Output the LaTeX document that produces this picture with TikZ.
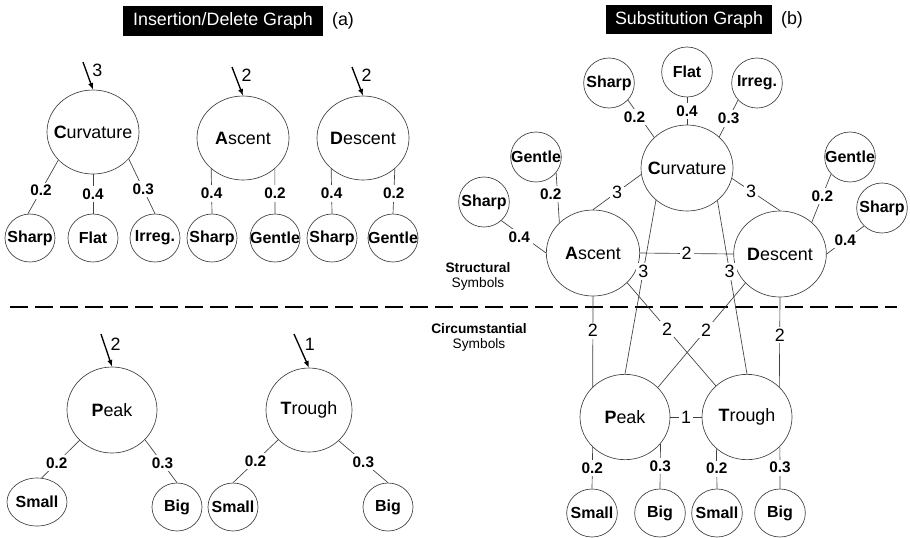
\documentclass[tikz,border=0pt]{standalone}
\usepackage{fontspec}
\setmainfont{Liberation Sans}
\usetikzlibrary{shapes.geometric}
\usetikzlibrary{arrows.meta}

\begin{document}
\begin{tikzpicture}[x=0.75pt,y=-0.75pt,
  bigfont/.style={font=\fontsize{13.4}{16}\selectfont},
  leaffont/.style={font=\fontsize{12}{14}\selectfont\bfseries},
  symb/.style={ellipse,draw=black!75,line width=0.5pt,inner sep=0pt,minimum width=69pt,minimum height=63pt,label={[bigfont]center:#1}},
  leaf/.style={ellipse,draw=black!75,line width=0.5pt,inner sep=0pt,minimum width=37.5pt,minimum height=36pt,label={[leaffont]center:#1}},
  link/.style={draw=black!75,line width=0.5pt},
  wlab/.style={fill=white,inner sep=2pt,font=\fontsize{11.5}{13}\selectfont\bfseries},
  clab/.style={fill=white,inner sep=1.5pt,bigfont},
  inarr/.style={line width=1pt,-{Latex[length=5pt,width=4pt]}},
  titlebox/.style={fill=black,text=white,inner sep=0pt,font=\fontsize{13.4}{16}\selectfont},
  tagfont/.style={font=\fontsize{10.3}{12}\selectfont},
]
\useasboundingbox (0,0) rectangle (910,537);

% Insertion/Delete graph (a)
\node[titlebox,minimum width=150pt,minimum height=22.5pt] (tita) at (223,21) {Insertion/Delete Graph};
\node[bigfont] (taga) at (343,21) {(a)};

\node[symb={{\bfseries C}urvature}] (curvA) at (93,132) {};
\node[symb={{\bfseries A}scent}] (ascA) at (243,138) {};
\node[symb={{\bfseries D}escent}] (descA) at (363,138) {};

\node[leaf={Sharp}] (sharpA) at (30,238) {};
\node[leaf={Flat}] (flatA) at (93,238) {};
\node[leaf={Irreg.}] (irregA) at (155,238) {};
\node[leaf={Sharp}] (asharpA) at (212,238) {};
\node[leaf={Gentle}] (agentA) at (275,238) {};
\node[leaf={Sharp}] (dsharpA) at (332,238) {};
\node[leaf={Gentle}] (dgentA) at (393,238) {};

\draw[link] (curvA.219) -- node[wlab,pos=.57] {0.2} (sharpA.95);
\draw[link] (curvA.south) -- node[wlab] {0.4} (flatA.north);
\draw[link] (curvA.323) -- node[wlab,pos=.55] {0.3} (irregA.90);
\draw[link] (ascA.224) -- node[wlab,pos=.55] {0.4} (asharpA.north);
\draw[link] (ascA.316) -- node[wlab,pos=.55] {0.2} (agentA.north);
\draw[link] (descA.224) -- node[wlab,pos=.55] {0.4} (dsharpA.north);
\draw[link] (descA.316) -- node[wlab,pos=.55] {0.2} (dgentA.north);

\coordinate (incurv) at (83,62);
\coordinate (inasc) at (232,67);
\coordinate (indesc) at (352,67);
\draw[inarr] (incurv) -- (curvA.north) node[bigfont,pos=.3,right=1pt] {3};
\draw[inarr] (inasc) -- (ascA.north) node[bigfont,pos=.3,right=1pt] {2};
\draw[inarr] (indesc) -- (descA.north) node[bigfont,pos=.3,right=1pt] {2};

% circumstantial symbols (a)
\node[symb={{\bfseries P}eak},minimum width=67.5pt,minimum height=64.5pt] (peakA) at (112,410) {};
\node[symb={{\bfseries T}rough},minimum width=64.5pt] (troughA) at (309,410) {};

\node[leaf={Small},minimum width=45pt] (smallPA) at (37,502) {};
\node[leaf={Big}] (bigPA) at (177,507) {};
\node[leaf={Small}] (smallTA) at (233,507) {};
\node[leaf={Big}] (bigTA) at (388,507) {};

\draw[link] (peakA.223) -- node[wlab,pos=.6] {0.2} (smallPA.79);
\draw[link] (peakA.318) -- node[wlab,pos=.55] {0.3} (bigPA.north);
\draw[link] (troughA.224) -- node[wlab,pos=.5] {0.2} (smallTA.north);
\draw[link] (troughA.314) -- node[wlab,pos=.5] {0.3} (bigTA.north);

\coordinate (inpeak) at (101,334);
\coordinate (introu) at (294,334);
\draw[inarr] (inpeak) -- (peakA.north) node[bigfont,pos=.3,right=1pt] {2};
\draw[inarr] (introu) -- (troughA.north) node[bigfont,pos=.3,right=1pt] {1};

% separator
\coordinate (sepl) at (10,307);
\coordinate (sepr) at (897,307);
\draw[line width=1.9pt,dash pattern=on 13.75pt off 5pt] (sepl) -- (sepr);

\node[tagfont,font=\fontsize{10.3}{12}\selectfont\bfseries] (strc) at (478,268) {Structural};
\node[tagfont] (strs) at (478,284) {Symbols};
\node[tagfont,font=\fontsize{10.3}{12}\selectfont\bfseries] (circ) at (479,329) {Circumstantial};
\node[tagfont] (circs) at (479,345) {Symbols};

% Substitution graph (b)
\node[titlebox,minimum width=124.5pt,minimum height=21.75pt] (titb) at (689,19.5) {Substitution Graph};
\node[bigfont] (tagb) at (792,20) {(b)};

\node[symb={{\bfseries C}urvature},minimum height=64.5pt] (curvB) at (687,168) {};
\node[symb={{\bfseries A}scent},minimum width=70pt,minimum height=64.5pt] (ascB) at (593,253) {};
\node[symb={{\bfseries D}escent},minimum width=69.5pt,minimum height=64.5pt] (descB) at (780,254) {};
\node[symb={{\bfseries P}eak},minimum width=67.5pt,minimum height=64pt] (peakB) at (625,417) {};
\node[symb={{\bfseries T}rough},minimum width=67.5pt,minimum height=64pt] (troughB) at (747,417) {};

\node[leaf={Sharp},minimum width=38pt,minimum height=37.5pt] (sharpB) at (609,83) {};
\node[leaf={Flat},minimum width=38pt,minimum height=37.5pt] (flatB) at (687,72) {};
\node[leaf={Irreg.},minimum width=38pt,minimum height=37.5pt] (irregB) at (757,83) {};
\node[leaf={Gentle},minimum width=38pt,minimum height=37.5pt] (gentlB) at (536,157) {};
\node[leaf={Sharp},minimum width=38pt,minimum height=37.5pt] (sharplB) at (484,202) {};
\node[leaf={Gentle},minimum width=38pt,minimum height=37.5pt] (gentrB) at (850,157) {};
\node[leaf={Sharp},minimum width=38pt,minimum height=37.5pt] (sharprB) at (882,208) {};

\node[leaf={Small},minimum width=38pt] (smallPB) at (592,513) {};
\node[leaf={Big},minimum width=38pt] (bigPB) at (660,513) {};
\node[leaf={Small},minimum width=38pt] (smallTB) at (717,513) {};
\node[leaf={Big},minimum width=38pt] (bigTB) at (780,513) {};

\draw[link] (sharpB.318) -- node[wlab,pos=.45,xshift=-4pt] {0.2} (curvB.137);
\draw[link] (flatB.south) -- node[wlab] {0.4} (curvB.north);
\draw[link] (irregB.222) -- node[wlab,pos=.5] {0.3} (curvB.44);
\draw[link] (gentlB.322) -- node[wlab,pos=.42,xshift=-5pt] {0.2} (ascB.138);
\draw[link] (sharplB.313) -- node[wlab,pos=.4,yshift=-3pt] {0.4} (ascB.west);
\draw[link] (gentrB.222) -- node[wlab,pos=.45] {0.2} (descB.45);
\draw[link] (sharprB.225) -- node[wlab,pos=.5] {0.4} (descB.east);

\draw[link] (curvB.188) -- node[clab,pos=.5] {3} (ascB.north);
\draw[link] (curvB.347) -- node[clab,pos=.4] {3} (descB.north);
\draw[link] (ascB.east) -- node[clab] {2} (descB.west);
\draw[link] (curvB.226) -- node[clab,pos=.41] {3} (peakB.north);
\draw[link] (curvB.313) -- node[clab,pos=.41] {3} (troughB.north);
\draw[link] (ascB.south) -- node[clab,pos=.38] {2} (peakB.137);
\draw[link] (descB.south) -- node[clab,pos=.42] {2} (troughB.43);
\draw[link] (ascB.319) -- node[clab,pos=.45] {2} (troughB.135);
\draw[link] (descB.220) -- node[clab,pos=.45] {2} (peakB.42);
\draw[link] (peakB.east) -- node[clab] {1} (troughB.west);

\draw[link] (peakB.223) -- node[wlab,pos=.5] {0.2} (smallPB.north);
\draw[link] (peakB.323) -- node[wlab,pos=.5] {0.3} (bigPB.north);
\draw[link] (troughB.226) -- node[wlab,pos=.5] {0.2} (smallTB.north);
\draw[link] (troughB.318) -- node[wlab,pos=.5] {0.3} (bigTB.north);

\end{tikzpicture}
\end{document}
